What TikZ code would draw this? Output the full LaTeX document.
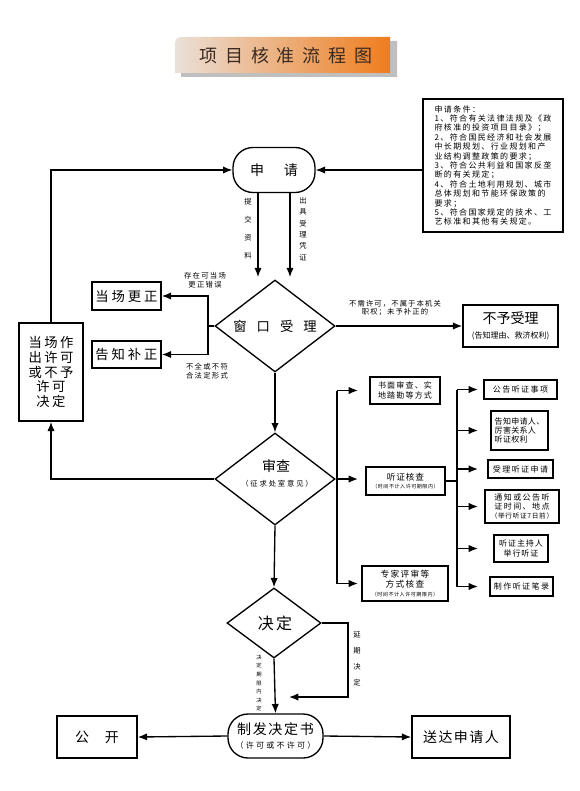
\documentclass[tikz,border=0pt]{standalone}
\usepackage{fontspec}
\setmainfont{Noto Sans CJK SC}
\usetikzlibrary{shapes.geometric,arrows.meta,calc}
\newcommand\myfs[2]{\fontsize{#1}{#2}\selectfont}
\newcommand\myls[1]{\addfontfeature{LetterSpace=#1}}
\definecolor{tl}{HTML}{EAE0D8}
\definecolor{tm}{HTML}{EDB98C}
\definecolor{tr}{HTML}{EF7D1E}
\definecolor{ttext}{HTML}{3A2A22}
\begin{document}
\begin{tikzpicture}[x=0.75pt,y=-0.75pt,
  box/.style={draw, line width=1.2pt, inner sep=0pt, align=center},
  sbox/.style={draw, line width=1.3pt, inner sep=0pt, align=center, font={\myfs{6}{7.2}\myls{18}}},
  dia/.style={draw, diamond, line width=1pt, inner sep=0pt},
  stad/.style={draw, rounded corners=15pt, line width=1pt, inner sep=0pt, align=center},
  arr/.style={line width=1pt, -{Latex[length=7pt,width=5.5pt]}},
  ln/.style={line width=1pt},
  lab/.style={inner sep=0pt, align=center, font={\myfs{5.5}{7}\myls{18}}},
]
\useasboundingbox (0,0) rectangle (580,791);
\fill[white] (0,0) rectangle (580,791);

% title banner
\fill[black!25] (181,77) -- (181,55) .. controls (181,41) .. (195,41) -- (397,41) -- (397,77) -- cycle;
\shade[left color=tl, middle color=tm, right color=tr] (175,73) -- (175,51) .. controls (175,37) .. (189,37) -- (390,37) -- (390,73) -- cycle;
\node[inner sep=0pt, text=ttext, font={\myfs{13.5}{15}\myls{43}}] (title) at (286,56) {项目核准流程图};

% conditions
\node[box, line width=1.1pt, minimum width=105pt, minimum height=99.75pt, align=left, font={\myfs{6}{7.05}\myls{17}}] (cond) at (493,165.5)
 {申请条件：\\1、符合有关法律法规及《政\\府核准的投资项目目录》；\\2、符合国民经济和社会发展\\中长期规划、行业规划和产\\业结构调整政策的要求；\\3、符合公共利益和国家反垄\\断的有关规定；\\4、符合土地利用规划、城市\\总体规划和节能环保政策的\\要求；\\5、符合国家规定的技术、工\\艺标准和其他有关规定。};

% apply
\node[stad, minimum width=61.5pt, minimum height=33.75pt, font={\myfs{10.5}{12}}] (shen) at (274,170) {申\hspace{15pt}请};

% window diamond
\node[dia, minimum width=90pt, minimum height=69pt] (win) at (275,326) {};
\node[inner sep=0pt, font={\myfs{10}{12}}] (wint) at (275,326) {窗\hspace{7.5pt}口\hspace{7.5pt}受\hspace{7.5pt}理};

\node[box, minimum width=71.25pt, minimum height=31.5pt] (bu) at (510.5,326)
 {{\myfs{10.5}{12}不予受理}\\[-1pt]{\myfs{6}{7}(告知理由、救济权利)}};

\node[box, minimum width=51.75pt, minimum height=21pt, font={\myfs{10}{12}\myls{22}}] (dc) at (126.5,296) {当场更正};
\node[box, minimum width=51.75pt, minimum height=20.25pt, font={\myfs{10}{12}\myls{22}}] (gz) at (126.5,354.5) {告知补正};

\node[box, minimum width=48pt, minimum height=73.5pt, font={\myfs{10}{11}\myls{18}}] (lb) at (51,372) {当场作\\出许可\\或不予\\许可\\决定};

% review diamond
\node[dia, minimum width=90pt, minimum height=69pt] (sc) at (275,479) {};
\node[inner sep=0pt, font={\myfs{10.5}{12}}] (sct) at (276,466) {审查};
\node[inner sep=0pt, font={\myfs{5.5}{7}\myls{25}}] (scs) at (277,484) {（征求处室意见）};

% column 1
\node[sbox, minimum width=52.5pt, minimum height=20.25pt, font={\myfs{6}{7.5}\myls{15}}] (sm) at (405,390.5) {书面审查、实\\地踏勘等方式};
\node[sbox, minimum width=59.25pt, minimum height=21pt] (tz) at (405.5,481)
 {{\myfs{6.5}{8}\myls{10}听证核查}\\[-1.5pt]{\myfs{3.8}{5}\myls{10}（时间不计入许可期限内）}};
\node[sbox, minimum width=64.5pt, minimum height=26.25pt, font={\myfs{6.5}{7.5}\myls{15}}] (zj) at (405,583.5)
 {专家评审等\\方式核查\\[-1pt]{\myfs{3.8}{5}\myls{10}（时间不计入许可期限内）}};

% column 2
\node[sbox, minimum width=54.75pt, minimum height=14.25pt] (r1) at (520.5,389.5) {公告听证事项};
\node[sbox, minimum width=42.75pt, minimum height=29.25pt, align=left, font={\myfs{6}{7.1}\myls{4}}] (r2) at (519.5,430.5) {告知申请人、\\厉害关系人\\听证权利};
\node[sbox, minimum width=48.75pt, minimum height=13.5pt] (r3) at (520.5,469) {受理听证申请};
\node[sbox, minimum width=55.5pt, minimum height=24.75pt, font={\myfs{6}{6.8}\myls{18}}] (r4) at (522,506.5) {通知或公告听\\证时间、地点\\{\myfs{5}{6}\myls{10}（举行听证7日前）}};
\node[sbox, minimum width=40.5pt, minimum height=20.25pt, font={\myfs{6}{7.2}\myls{12}}] (r5) at (521,548.5) {听证主持人\\举行听证};
\node[sbox, minimum width=47.25pt, minimum height=14.25pt] (r6) at (521.5,586.5) {制作听证笔录};

% decision
\node[dia, minimum width=70.5pt, minimum height=52.5pt] (jd) at (274,623) {};
\node[inner sep=0pt, font={\myfs{12}{14}\myls{15}}] (jdt) at (275,623) {决定};

\node[stad, minimum width=71.25pt, minimum height=33pt] (zf) at (275.5,736)
 {{\myfs{10.5}{12}\myls{12}制发决定书}\\[-2pt]{\myfs{6}{7}\myls{28}（许可或不许可）}};
\node[box, minimum width=60pt, minimum height=31.5pt, font={\myfs{10.5}{12}}] (gk) at (97,737) {公\hspace{12pt}开};
\node[box, minimum width=73.5pt, minimum height=31.5pt, font={\myfs{10.5}{12}\myls{10}}] (sd) at (461,737) {送达申请人};

% labels
\node[lab, font={\myfs{5.5}{13.5}}] (l1) at (248,229) {提\\交\\资\\料};
\node[lab, font={\myfs{5.5}{8.5}}] (l2) at (303,229) {出\\具\\受\\理\\凭\\证};
\node[lab] (l3) at (205,280) {存在可当场\\更正错误};
\node[lab] (l4) at (207,371) {不全或不符\\合法定形式};
\node[lab, font={\myfs{5.5}{6.3}\myls{15}}] (l5) at (395,308) {不需许可，不属于本机关\\职权；未予补正的};
\node[lab, font={\myfs{5.5}{12}}] (l6) at (357,659) {延\\期\\决\\定};
\node[lab, font={\myfs{4}{6.4}}] (l7) at (259,683) {决\\定\\期\\限\\内\\决\\定};

% coordinates
\coordinate (wl) at (208,326);
\coordinate (v1) at (337,0);
\coordinate (tip1) at (358,0);
\coordinate (v2) at (457,0);
\coordinate (tip2) at (478,0);
\coordinate (dl) at (348,697);
\coordinate (dlt) at (289,697);

% connectors
\draw[arr] (cond.west |- shen.east) -- (shen.east);
\draw[arr] (lb.north) |- (shen.west);
\draw[arr] (sc.west) -| (lb.south);
\draw[arr] ([xshift=-12pt]shen.south) -- ++(0,84);
\draw[arr] ([xshift=12pt]shen.south) -- ++(0,84);
\draw[ln] (win.west) -- (wl);
\draw[arr] (wl) |- (dc.east);
\draw[arr] (wl) |- (gz.east);
\draw[arr] (win.east) -- (bu.west);
\draw[arr] (win.south) -- (sc.north);

\draw[ln] (v1 |- sm.west) -- (v1 |- zj.west);
\draw[arr] (v1 |- sm.west) -- (tip1 |- sm.west);
\draw[arr] (sc.east) -- (tip1 |- sc.east);
\draw[arr] (v1 |- zj.west) -- (tip1 |- zj.west);

\draw[ln] (tz.east) -- (v2 |- tz.east);
\draw[ln] (v2 |- r1.west) -- (v2 |- r6.west);
\foreach \r in {r1,r2,r3,r4,r5,r6}
  \draw[arr] (v2 |- \r.west) -- (tip2 |- \r.west);

\draw[arr] (sc.south) -- (jd.north);
\draw[arr] (jd.east) -| (dl) -- (dlt);
\draw[arr] (jd.south) -- (zf.north);
\draw[arr] (zf.west) -- (gk.east);
\draw[arr] (zf.east) -- (sd.west);
\end{tikzpicture}
\end{document}
